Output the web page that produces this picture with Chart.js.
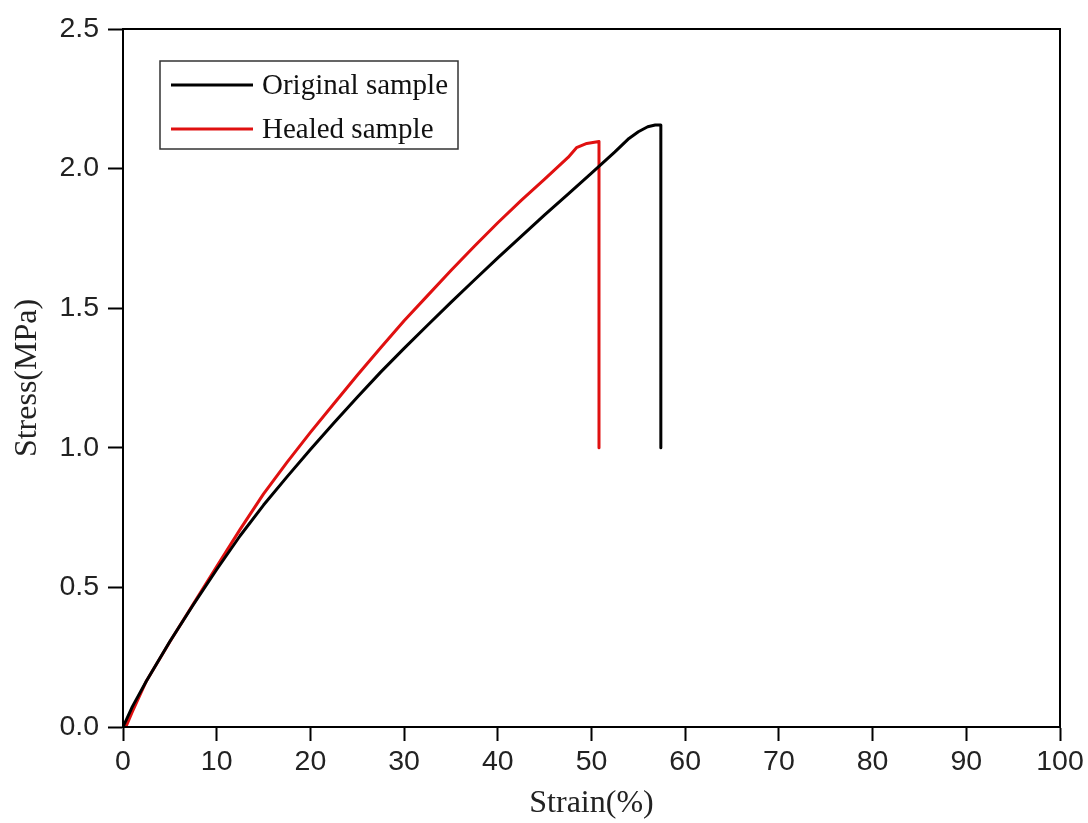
<!DOCTYPE html>
<html>
<head>
<meta charset="utf-8">
<script src="https://cdn.jsdelivr.net/npm/chart.js@4"></script>
<style>
  html, body { margin: 0; padding: 0; background: #fff; }
  #wrap { width: 1088px; height: 823px; }
</style>
</head>
<body>
<div id="wrap"><canvas id="c" width="1088" height="823"></canvas></div>
<script>
// ---- data ----
const originalStrain = [0, 1, 2.5, 5, 7.5, 10, 12.5, 15, 17.5, 20, 22.5, 25, 27.5, 30, 32.5, 35, 37.5, 40, 42.5, 45, 47.5, 50, 52.5, 54, 55, 56, 56.8, 57.4, 57.4];
const originalStress = [0, 0.073, 0.165, 0.306, 0.438, 0.564, 0.685, 0.795, 0.896, 0.994, 1.089, 1.181, 1.271, 1.356, 1.439, 1.521, 1.601, 1.68, 1.757, 1.834, 1.909, 1.984, 2.06, 2.108, 2.132, 2.15, 2.156, 2.156, 1.0];
const healedStrain = [0.3, 1, 2.5, 5, 7.5, 10, 12.5, 15, 17.5, 20, 22.5, 25, 27.5, 30, 32.5, 35, 37.5, 40, 42.5, 45, 47.5, 48.4, 49.5, 50.8, 50.8];
const healedStress = [0, 0.055, 0.165, 0.305, 0.44, 0.575, 0.708, 0.835, 0.948, 1.055, 1.158, 1.26, 1.358, 1.455, 1.545, 1.635, 1.722, 1.806, 1.886, 1.962, 2.04, 2.075, 2.09, 2.097, 1.0];
const seriesLabels = ['Original sample', 'Healed sample'];
const xTicks = [0, 10, 20, 30, 40, 50, 60, 70, 80, 90, 100];
const yTicks = [0, 0.5, 1.0, 1.5, 2.0, 2.5];

const toPts = (xs, ys) => xs.map((x, i) => ({ x: x, y: ys[i] }));

const framePlugin = {
  id: 'frame',
  afterDraw(chart) {
    const { ctx, chartArea: a } = chart;
    ctx.save();
    ctx.strokeStyle = '#000';
    ctx.lineWidth = 2;
    ctx.strokeRect(a.left, a.top, a.right - a.left, a.bottom - a.top);
    ctx.restore();
  }
};

const legendPlugin = {
  id: 'boxLegend',
  afterDraw(chart) {
    const { ctx } = chart;
    const x0 = 160, y0 = 61, w = 298, h = 88;
    ctx.save();
    ctx.fillStyle = '#fff';
    ctx.fillRect(x0, y0, w, h);
    ctx.strokeStyle = '#333';
    ctx.lineWidth = 1.5;
    ctx.strokeRect(x0, y0, w, h);
    ctx.font = '29px "Liberation Serif", "Times New Roman", serif';
    ctx.textBaseline = 'middle';
    chart.data.datasets.forEach((ds, i) => {
      const y = y0 + 24 + i * 44;
      ctx.strokeStyle = ds.borderColor;
      ctx.lineWidth = 3;
      ctx.beginPath();
      ctx.moveTo(x0 + 11, y);
      ctx.lineTo(x0 + 93, y);
      ctx.stroke();
      ctx.fillStyle = '#111';
      ctx.fillText(ds.label, x0 + 102, y + 1);
    });
    ctx.restore();
  }
};

new Chart(document.getElementById('c'), {
  type: 'scatter',
  data: {
    datasets: [
      { label: seriesLabels[0], data: toPts(originalStrain, originalStress), showLine: true, borderColor: '#000000', borderWidth: 3, pointRadius: 0, tension: 0, fill: false, borderJoinStyle: 'round' },
      { label: seriesLabels[1], data: toPts(healedStrain, healedStress), showLine: true, borderColor: '#e01010', borderWidth: 3, pointRadius: 0, tension: 0, fill: false, borderJoinStyle: 'round' }
    ]
  },
  options: {
    responsive: false,
    animation: false,
    layout: { padding: { top: 29, right: 28, left: 0, bottom: 0 } },
    plugins: { legend: { display: false }, tooltip: { enabled: false } },
    scales: {
      x: {
        type: 'linear', min: 0, max: 100,
        afterBuildTicks: s => { s.ticks = xTicks.map(v => ({ value: v })); },
        afterFit: s => { s.height = 96; },
        grid: { drawOnChartArea: false, drawTicks: true, tickLength: 14, tickColor: '#000', tickWidth: 2 },
        border: { display: true, color: '#000', width: 2 },
        ticks: { padding: 4, color: '#222', font: { family: '"Liberation Sans", Arial, sans-serif', size: 28.5 }, maxRotation: 0, callback: v => String(v) },
        title: { display: true, text: 'Strain(%)', color: '#222', font: { family: '"Liberation Serif", "Times New Roman", serif', size: 32 }, padding: { top: 0, bottom: 0 } }
      },
      y: {
        type: 'linear', min: 0, max: 2.5,
        afterBuildTicks: s => { s.ticks = yTicks.map(v => ({ value: v })); },
        afterFit: s => { s.width = 123; },
        grid: { drawOnChartArea: false, drawTicks: true, tickLength: 15, tickColor: '#000', tickWidth: 2 },
        border: { display: true, color: '#000', width: 2 },
        ticks: { padding: 9, color: '#222', font: { family: '"Liberation Sans", Arial, sans-serif', size: 28.5 }, callback: v => Number(v).toFixed(1) },
        title: { display: true, text: 'Stress(MPa)', color: '#222', font: { family: '"Liberation Serif", "Times New Roman", serif', size: 32 }, padding: { top: 8, bottom: 0 } }
      }
    }
  },
  plugins: [framePlugin, legendPlugin]
});
</script>
</body>
</html>
